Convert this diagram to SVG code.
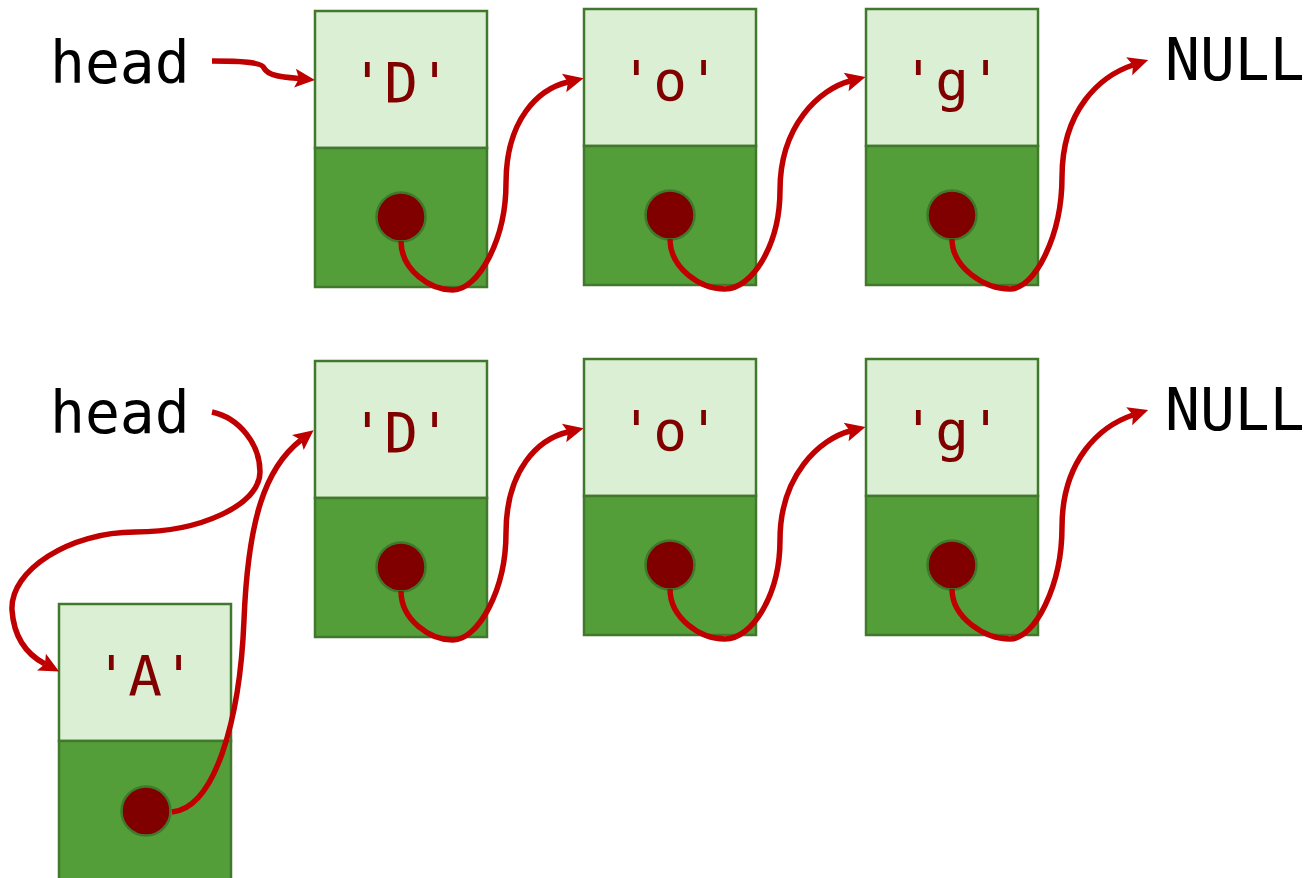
<svg xmlns="http://www.w3.org/2000/svg" width="1309" height="878" viewBox="0 0 1309 878">
<style>
.top{fill:#dbefd4;stroke:#41792c;stroke-width:2.5}
.bot{fill:#549e39;stroke:#41792c;stroke-width:2.5}
.dot{fill:#800000;stroke:#3f7a2b;stroke-width:2.5}
.val{font-family:"DejaVu Sans Mono",monospace;font-size:56px;fill:#800000;text-anchor:middle}
.lbl{font-family:"DejaVu Sans Mono",monospace;font-size:58px;fill:#000000}
.edge{fill:none;stroke:#c00000;stroke-width:5.5;marker-end:url(#arr)}
</style>
<defs>
<marker id="arr" markerUnits="userSpaceOnUse" markerWidth="26" markerHeight="26" viewBox="-2 -13 26 26" refX="4" refY="0" orient="auto">
<path d="M0,-9.5 L20,0 L0,9.5 L4,0 Z" fill="#c00000"/>
</marker>
</defs>
<rect width="1309" height="878" fill="#ffffff"/>

<g id="labels">
<text class="lbl" x="50" y="83">head</text>
<text class="lbl" x="1165" y="80">NULL</text>
<text class="lbl" x="50" y="433">head</text>
<text class="lbl" x="1165" y="430">NULL</text>
</g>

<g id="node-top-D">
<rect class="top" x="315" y="11" width="172" height="137"/>
<rect class="bot" x="315" y="148" width="172" height="139"/>
<text class="val" x="401" y="102">'D'</text>
<circle class="dot" cx="401" cy="217" r="24.5"/>
</g>
<g id="node-top-o">
<rect class="top" x="584" y="9" width="172" height="137"/>
<rect class="bot" x="584" y="146" width="172" height="139"/>
<text class="val" x="670" y="100">'o'</text>
<circle class="dot" cx="670" cy="215" r="24.5"/>
</g>
<g id="node-top-g">
<rect class="top" x="866" y="9" width="172" height="137"/>
<rect class="bot" x="866" y="146" width="172" height="139"/>
<text class="val" x="952" y="100">'g'</text>
<circle class="dot" cx="952" cy="215" r="24.5"/>
</g>

<g id="node-bot-D">
<rect class="top" x="315" y="361" width="172" height="137"/>
<rect class="bot" x="315" y="498" width="172" height="139"/>
<text class="val" x="401" y="452">'D'</text>
<circle class="dot" cx="401" cy="567" r="24.5"/>
</g>
<g id="node-bot-o">
<rect class="top" x="584" y="359" width="172" height="137"/>
<rect class="bot" x="584" y="496" width="172" height="139"/>
<text class="val" x="670" y="450">'o'</text>
<circle class="dot" cx="670" cy="565" r="24.5"/>
</g>
<g id="node-bot-g">
<rect class="top" x="866" y="359" width="172" height="137"/>
<rect class="bot" x="866" y="496" width="172" height="139"/>
<text class="val" x="952" y="450">'g'</text>
<circle class="dot" cx="952" cy="565" r="24.5"/>
</g>
<g id="node-A">
<rect class="top" x="59" y="604" width="172" height="137"/>
<rect class="bot" x="59" y="741" width="172" height="141"/>
<text class="val" x="145" y="695">'A'</text>
<circle class="dot" cx="146" cy="811" r="24.5"/>
</g>

<g id="connectors">
<path class="edge" d="M212,61 C240,61 262,62 264,68 C268,76 283,77 299,78.5"/>
<path class="edge" d="M401,241 C401,270 430,290 453,290 C478,290 506,240 506,183 C506,120 538,89 568,82"/>
<path class="edge" d="M670,239 C670,268 700,289 725,289 C752,289 780,245 780,190 C780,125 820,89 850,81"/>
<path class="edge" d="M952,239 C952,268 985,289 1010,289 C1035,289 1062,235 1062,177 C1062,110 1100,76 1133,65"/>

<path class="edge" d="M212,412 C240,418 260,445 260,472 C260,505 200,532 135,532 C70,532 10,570 12,610 C14,640 28,655 45,664"/>
<path class="edge" d="M172,812 C215,808 240,720 244,620 C248,520 265,468 301,440"/>
<path class="edge" d="M401,591 C401,620 430,640 453,640 C478,640 506,590 506,533 C506,470 538,439 568,432"/>
<path class="edge" d="M670,589 C670,618 700,639 725,639 C752,639 780,595 780,540 C780,475 820,439 850,431"/>
<path class="edge" d="M952,589 C952,618 985,639 1010,639 C1035,639 1062,585 1062,527 C1062,460 1100,426 1133,415"/>
</g>
</svg>
